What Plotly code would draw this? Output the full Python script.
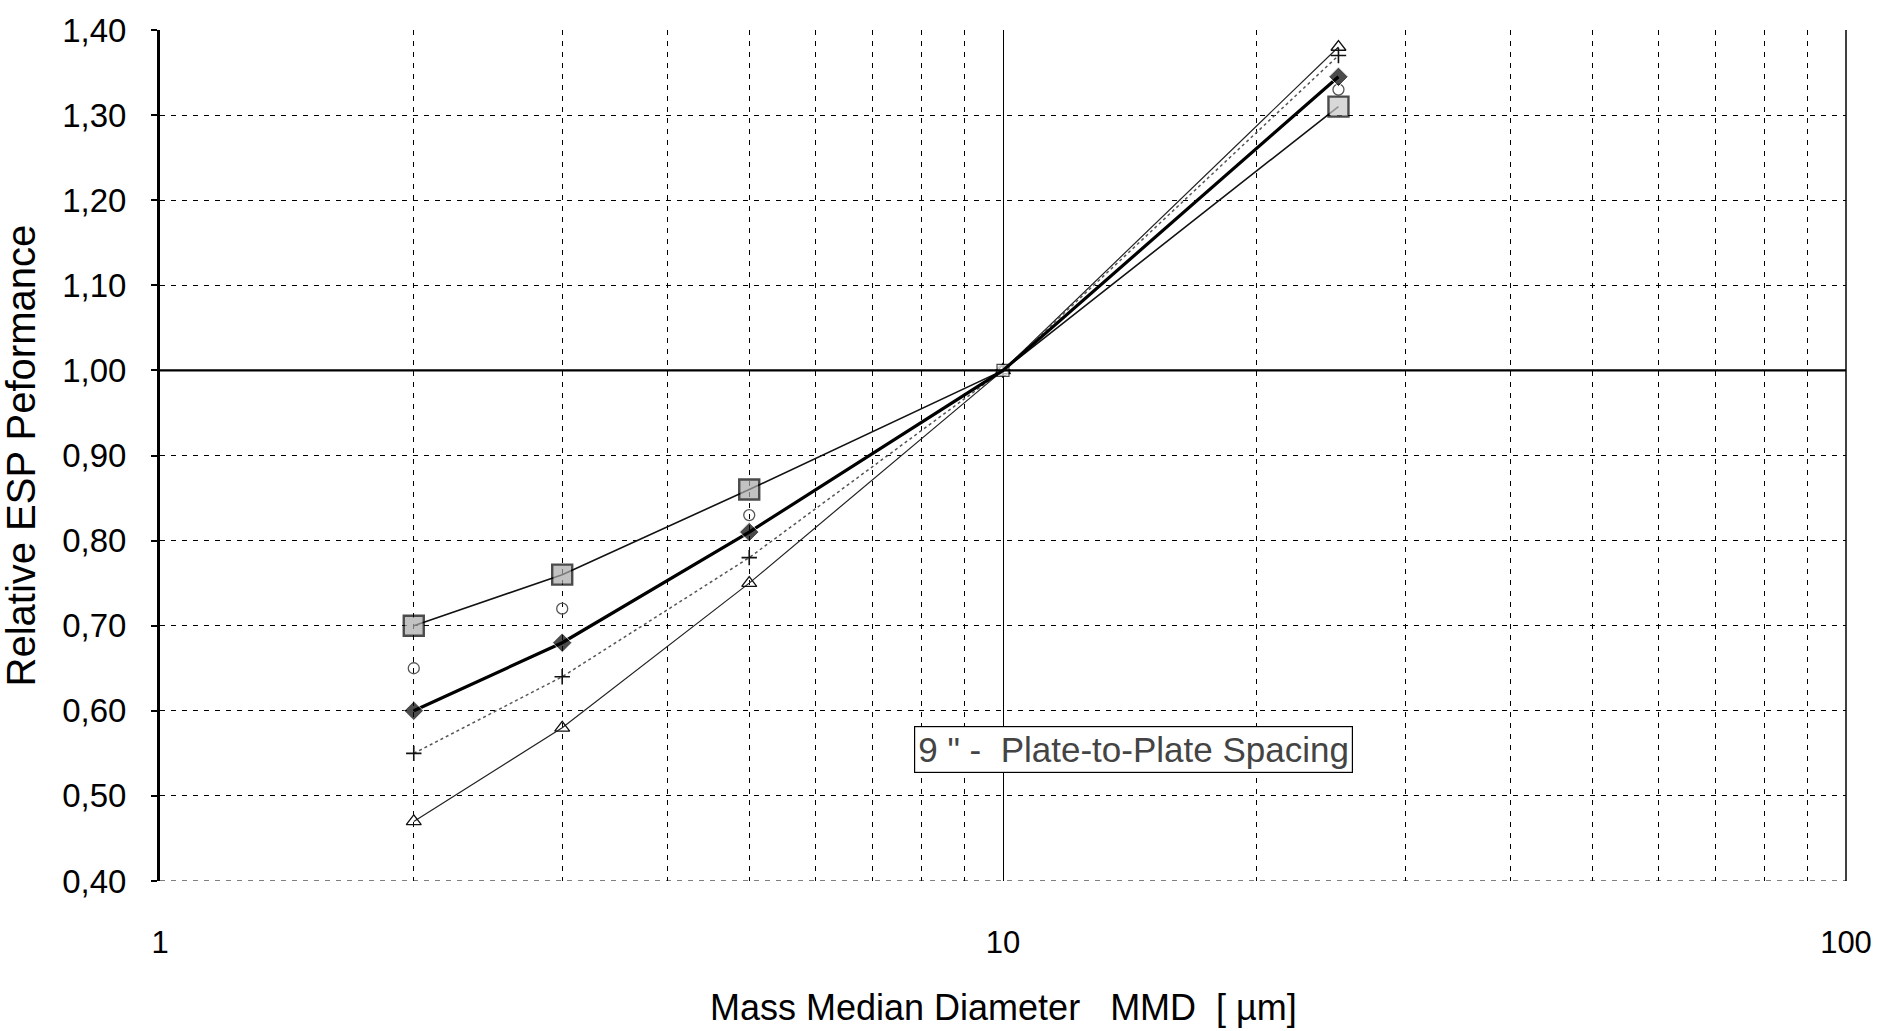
import plotly.graph_objects as go

# Particle size (mass median diameter, µm) shared by all series
mmd = [2, 3, 5, 10, 25]

# Relative ESP performance, normalised to 1.00 at 10 µm
perf_square = [0.70, 0.76, 0.86, 1.00, 1.31]
perf_diamond = [0.60, 0.68, 0.81, 1.00, 1.345]
perf_circle = [0.65, 0.72, 0.83, 1.00, 1.33]
perf_plus = [0.55, 0.64, 0.78, 1.00, 1.37]
perf_triangle = [0.47, 0.58, 0.75, 1.00, 1.38]

y_ticks = [0.40, 0.50, 0.60, 0.70, 0.80, 0.90, 1.00, 1.10, 1.20, 1.30, 1.40]
x_ticks = [1, 10, 100]

FONT = "Liberation Sans, Arial, sans-serif"

fig = go.Figure()

fig.add_trace(go.Scatter(
    x=mmd, y=perf_triangle, mode="lines+markers",
    line=dict(color="#222", width=1.2),
    marker=dict(symbol="triangle-up-open", size=13, color="#111", line=dict(width=1.3)),
))
fig.add_trace(go.Scatter(
    x=mmd, y=perf_plus, mode="lines+markers",
    line=dict(color="#555", width=1.5, dash="dot"),
    marker=dict(symbol="cross-thin-open", size=11, color="#111", line=dict(width=1.6, color="#111")),
))
fig.add_trace(go.Scatter(
    x=mmd, y=perf_circle, mode="markers",
    marker=dict(symbol="circle-open", size=11, color="#555", line=dict(width=1.3)),
))
fig.add_trace(go.Scatter(
    x=mmd, y=perf_square, mode="lines+markers",
    line=dict(color="#111", width=1.6),
    marker=dict(symbol="square",
                size=[20, 20, 20, 12, 20],
                color=["#a9a9a9", "#a9a9a9", "#a9a9a9", "#ffffff", "#c8c8c8"],
                line=dict(color="#000", width=[2.4, 2.4, 2.4, 1.2, 2.4])),
))
fig.add_trace(go.Scatter(
    x=mmd, y=perf_diamond, mode="lines+markers",
    line=dict(color="#000", width=3.2),
    marker=dict(symbol="diamond", size=[15, 15, 15, 0, 15], color="#000"),
))

# Reference level at 1.00, dashed floor at 0.40 and right-hand frame
fig.add_shape(type="line", xref="paper", yref="y", x0=0, x1=1, y0=1.0, y1=1.0,
              line=dict(color="#000", width=2.2))
fig.add_shape(type="line", xref="paper", yref="y", x0=0, x1=1, y0=0.40, y1=0.40,
              line=dict(color="#000", width=1, dash="5px,6px"))
fig.add_shape(type="line", xref="paper", yref="paper", x0=1, x1=1, y0=0, y1=1,
              line=dict(color="#000", width=1.5))

fig.add_annotation(
    x=1.155, y=0.554, xref="x", yref="y",
    text='9 " -  Plate-to-Plate Spacing', showarrow=False,
    font=dict(family=FONT, size=35, color="#444"),
    bordercolor="#000", borderwidth=1.2, borderpad=3, bgcolor="white",
)

fig.add_annotation(
    x=0.5, y=0, xref="paper", yref="paper", yshift=-126, yanchor="middle",
    text="Mass Median Diameter   MMD  [ µm]", showarrow=False,
    font=dict(family=FONT, size=36, color="#000"),
)
fig.add_annotation(
    x=0, y=0.5, xref="paper", yref="paper", xshift=-140, xanchor="center",
    text="Relative ESP Peformance", textangle=-90, showarrow=False,
    font=dict(family=FONT, size=40, color="#000"),
)

fig.update_layout(
    width=1884, height=1031,
    margin=dict(l=160, r=34, t=24, b=150),
    paper_bgcolor="white", plot_bgcolor="white",
    showlegend=False,
    separators=",.",
    font=dict(family=FONT, color="#000"),
)

fig.update_xaxes(
    type="log", range=[0, 2],
    tickvals=x_ticks, ticktext=[str(v) for v in x_ticks],
    tickfont=dict(size=31),
    ticks="", ticklabelstandoff=40,
    showline=False, zeroline=False,
    showgrid=True, gridcolor="#000", gridwidth=1,
    minor=dict(dtick="D1", showgrid=True, gridcolor="#000", gridwidth=1,
               griddash="5px,6px", ticks=""),
)
fig.update_yaxes(
    range=[0.40, 1.40],
    tickvals=y_ticks, tickformat=".2f",
    tickfont=dict(size=33),
    ticks="outside", ticklen=6, tickcolor="#000", tickwidth=1.5,
    ticklabelstandoff=18,
    showline=True, linecolor="#000", linewidth=3,
    zeroline=False,
    showgrid=True, gridcolor="#000", gridwidth=1, griddash="5px,6px",
)

fig.write_html("out.html")
